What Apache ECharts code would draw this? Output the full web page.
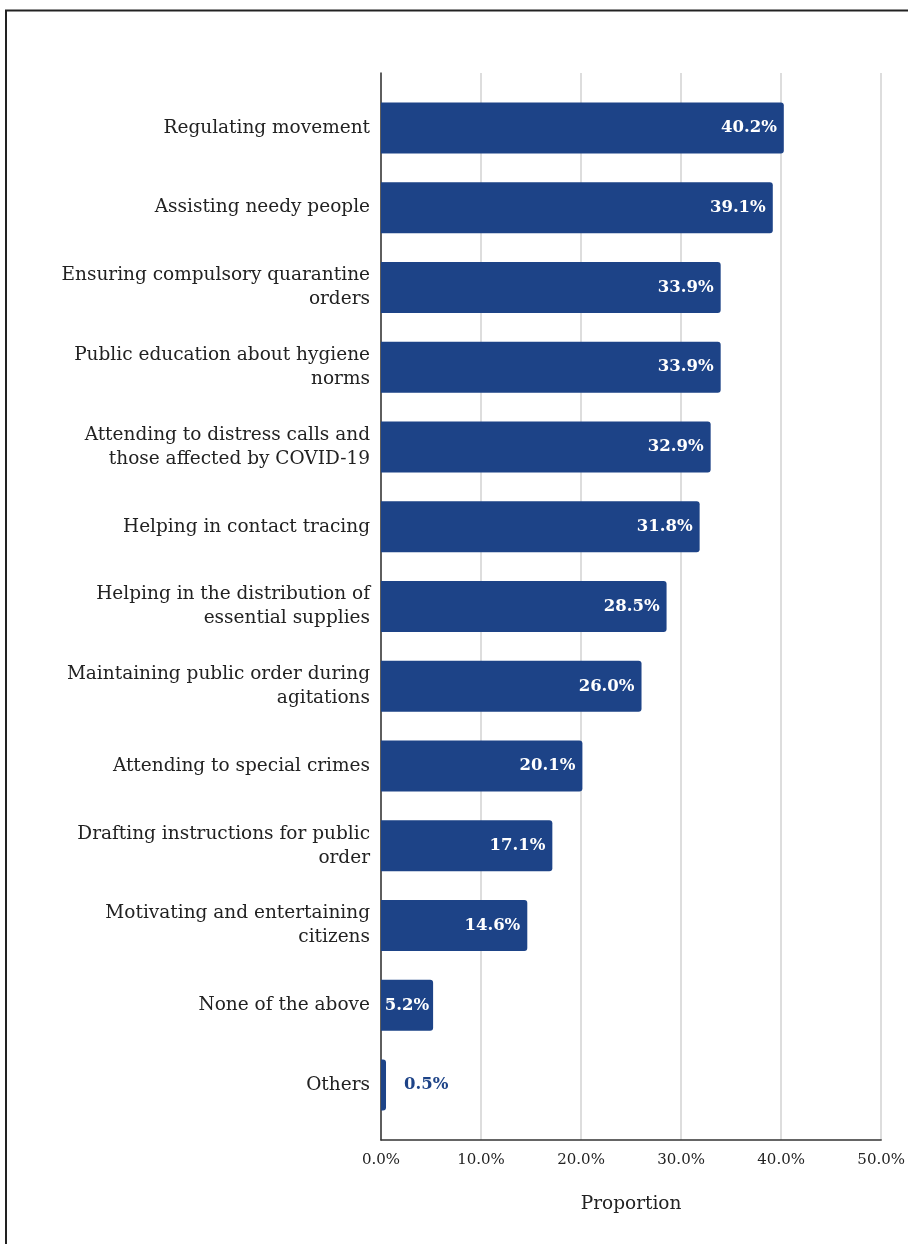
<!DOCTYPE html>
<html>
<head>
<meta charset="utf-8">
<script src="https://cdn.jsdelivr.net/npm/echarts@6/dist/echarts.min.js"></script>
<style>
  html, body { margin: 0; padding: 0; background: #fff; }
  #chart { width: 908px; height: 1244px; }
</style>
</head>
<body>
<div id="chart"></div>
<script>
// Police roles during COVID-19, share of respondents
const categories = [
  'Regulating movement',
  'Assisting needy people',
  'Ensuring compulsory quarantine\norders',
  'Public education about hygiene\nnorms',
  'Attending to distress calls and\nthose affected by COVID-19',
  'Helping in contact tracing',
  'Helping in the distribution of\nessential supplies',
  'Maintaining public order during\nagitations',
  'Attending to special crimes',
  'Drafting instructions for public\norder',
  'Motivating and entertaining\ncitizens',
  'None of the above',
  'Others'
];
const proportions = [40.2, 39.1, 33.9, 33.9, 32.9, 31.8, 28.5, 26.0, 20.1, 17.1, 14.6, 5.2, 0.5];
const xTicks = [0, 10, 20, 30, 40, 50];
const axisTitle = 'Proportion';

const FONT = 'DejaVu Serif';
const BAR = '#1d4387';
const pct = v => Number(v).toFixed(1) + '%';

// label placement: outside for slivers, centred for short bars, at the end otherwise
function labelFor(v) {
  if (v < 3) return { position: 'right', distance: 18, color: BAR };
  if (v < 8) return { position: 'inside', color: '#fff' };
  return { position: 'insideRight', distance: 7, color: '#fff' };
}

const chart = echarts.init(document.getElementById('chart'), null, { renderer: 'canvas' });

const plotLeft = 381, plotWidth = 501;

chart.setOption({
  animation: false,
  backgroundColor: '#fff',
  grid: [
    // frame grid: gridlines, axis lines and tick labels
    { left: plotLeft, width: plotWidth, top: 73, height: 1067 },
    // bar grid: category bands, inset from the frame
    { left: plotLeft, width: plotWidth, top: 88, height: 1037 }
  ],
  xAxis: [
    {
      gridIndex: 0, type: 'value',
      min: xTicks[0], max: xTicks[xTicks.length - 1], interval: 10,
      axisLine: { show: true, lineStyle: { color: '#333', width: 1.5 } },
      axisTick: { show: false },
      splitLine: { show: true, lineStyle: { color: '#d2d2d2', width: 1.5 } },
      axisLabel: { formatter: pct, margin: 13, fontFamily: FONT, fontSize: 15, color: '#222' },
      name: axisTitle, nameLocation: 'middle', nameGap: 55,
      nameTextStyle: { fontFamily: FONT, fontSize: 18.5, color: '#222' }
    },
    {
      gridIndex: 1, type: 'value',
      min: xTicks[0], max: xTicks[xTicks.length - 1],
      show: false
    }
  ],
  yAxis: [
    {
      gridIndex: 0, type: 'value', min: 0, max: 1,
      axisLine: { show: true, lineStyle: { color: '#333', width: 1.5 } },
      axisTick: { show: false }, axisLabel: { show: false }, splitLine: { show: false }
    },
    {
      gridIndex: 1, type: 'category', data: categories, inverse: true,
      axisLine: { show: false }, axisTick: { show: false },
      axisLabel: {
        margin: 11, fontFamily: FONT, fontSize: 18.5, color: '#222',
        lineHeight: 24, align: 'right'
      }
    }
  ],
  series: [{
    type: 'bar',
    xAxisIndex: 1, yAxisIndex: 1,
    data: proportions.map(v => ({ value: v, label: labelFor(v) })),
    barWidth: 51,
    itemStyle: { color: BAR, borderRadius: [0, 3, 3, 0] },
    label: {
      show: true, formatter: p => pct(p.value),
      fontFamily: FONT, fontWeight: 'bold', fontSize: 16.5
    }
  }],
  graphic: [{
    type: 'polyline',
    shape: { points: [[6, 1244], [6, 10.5], [908, 10.5]] },
    style: { stroke: '#222', lineWidth: 2, fill: null },
    silent: true
  }]
});
</script>
</body>
</html>
